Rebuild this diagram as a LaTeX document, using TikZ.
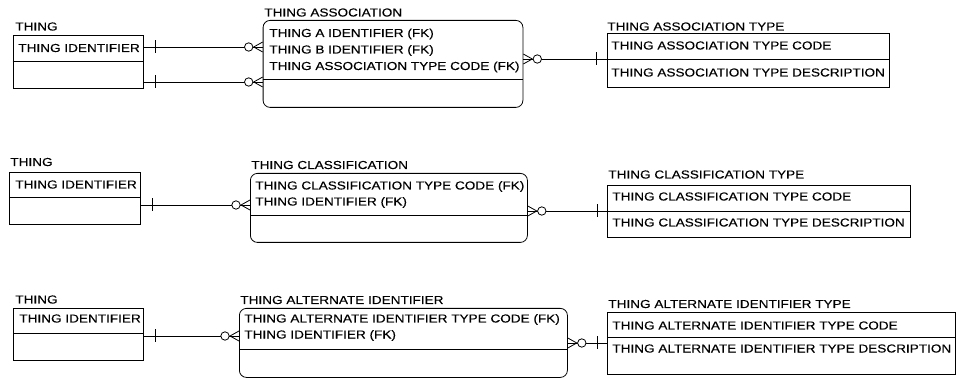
\documentclass[tikz,border=0pt]{standalone}
\usepackage{fontspec}
\setmainfont{Liberation Sans}[FakeStretch=1.17,FakeBold=0.3]
\begin{document}
\begin{tikzpicture}[x=1pt,y=-1pt,line width=0.8pt,
  ent/.style={draw,rectangle,anchor=north west,inner sep=0pt},
  rent/.style={ent,rounded corners=7pt},
  lbl/.style={anchor=base west,inner sep=0pt,font=\fontsize{11.6}{13}\selectfont},
  manyzero/.pic={\draw (0,-5) -- (-9,0) -- (0,5);
                 \draw[fill=white] (-14,0) circle (4.2);},
  onebar/.pic={\draw (12,-6.5) -- (12,6.5);},
  onebarin/.pic={\draw (-10,-6.5) -- (-10,6.5);}]
\useasboundingbox (0,0) rectangle (956,379);

% ---------- Thing association ----------
\node[ent,minimum width=130.3pt,minimum height=53pt] (t1) at (12.7,35) {};
\draw (t1.west |- 0,61) -- (t1.east |- 0,61);
\node[lbl] (t1l) at (15,30.5) {THING};
\node[lbl] (t1a) at (18,52) {THING IDENTIFIER};

\node[rent,minimum width=259.8pt,minimum height=87pt] (a1) at (262.7,20) {};
\draw (a1.west |- 0,79) -- (a1.east |- 0,79);
\node[lbl] (a1l) at (264,16.5) {THING ASSOCIATION};
\node[lbl] (a1a) at (269,37) {THING A IDENTIFIER (FK)};
\node[lbl] (a1b) at (269,53.5) {THING B IDENTIFIER (FK)};
\node[lbl] (a1c) at (269,70) {THING ASSOCIATION TYPE CODE (FK)};

\node[ent,minimum width=282.5pt,minimum height=54pt] (y1) at (606.5,33) {};
\draw (y1.west |- 0,59) -- (y1.east |- 0,59);
\node[lbl] (y1l) at (607,30.5) {THING ASSOCIATION TYPE};
\node[lbl] (y1a) at (611,49.5) {THING ASSOCIATION TYPE CODE};
\node[lbl] (y1b) at (611,76.5) {THING ASSOCIATION TYPE DESCRIPTION};

\coordinate (r1a) at (0,47);
\coordinate (r1b) at (0,82);
\coordinate (r1c) at (0,59);
\draw (t1.east |- r1a) -- (a1.west |- r1a);
\draw (t1.east |- r1b) -- (a1.west |- r1b);
\draw (a1.east |- r1c) -- (y1.west |- r1c);
\path (t1.east |- r1a) pic {onebar};
\path (t1.east |- r1b) pic {onebar};
\path (a1.west |- r1a) pic {manyzero};
\path (a1.west |- r1b) pic {manyzero};
\path (a1.east |- r1c) pic[xscale=-1] {manyzero};
\path (y1.west |- r1c) pic {onebarin};

% ---------- Thing classification ----------
\node[ent,minimum width=131pt,minimum height=52pt] (t2) at (9,172) {};
\draw (t2.west |- 0,197) -- (t2.east |- 0,197);
\node[lbl] (t2l) at (10,166) {THING};
\node[lbl] (t2a) at (15,188.5) {THING IDENTIFIER};

\node[rent,minimum width=277pt,minimum height=69pt] (a2) at (250,173) {};
\draw (a2.west |- 0,215) -- (a2.east |- 0,215);
\node[lbl] (a2l) at (251,169) {THING CLASSIFICATION};
\node[lbl] (a2a) at (255,189.5) {THING CLASSIFICATION TYPE CODE (FK)};
\node[lbl] (a2b) at (255,205.5) {THING IDENTIFIER (FK)};

\node[ent,minimum width=303pt,minimum height=52pt] (y2) at (607,185) {};
\draw (y2.west |- 0,211) -- (y2.east |- 0,211);
\node[lbl] (y2l) at (608,178.5) {THING CLASSIFICATION TYPE};
\node[lbl] (y2a) at (612,200.5) {THING CLASSIFICATION TYPE CODE};
\node[lbl] (y2b) at (612,226.5) {THING CLASSIFICATION TYPE DESCRIPTION};

\coordinate (r2a) at (0,205);
\coordinate (r2b) at (0,211);
\draw (t2.east |- r2a) -- (a2.west |- r2a);
\draw (a2.east |- r2b) -- (y2.west |- r2b);
\path (t2.east |- r2a) pic {onebar};
\path (a2.west |- r2a) pic {manyzero};
\path (a2.east |- r2b) pic[xscale=-1] {manyzero};
\path (y2.west |- r2b) pic {onebarin};

% ---------- Thing alternate identifier ----------
\node[ent,minimum width=130pt,minimum height=52pt] (t3) at (13,308) {};
\draw (t3.west |- 0,333) -- (t3.east |- 0,333);
\node[lbl] (t3l) at (15,303.5) {THING};
\node[lbl] (t3a) at (19,322.5) {THING IDENTIFIER};

\node[rent,minimum width=328pt,minimum height=69pt] (a3) at (239,308) {};
\draw (a3.west |- 0,349) -- (a3.east |- 0,349);
\node[lbl] (a3l) at (240,304) {THING ALTERNATE IDENTIFIER};
\node[lbl] (a3a) at (244,322.5) {THING ALTERNATE IDENTIFIER TYPE CODE (FK)};
\node[lbl] (a3b) at (244,338.5) {THING IDENTIFIER (FK)};

\node[ent,minimum width=348pt,minimum height=62pt] (y3) at (607,312) {};
\draw (y3.west |- 0,337) -- (y3.east |- 0,337);
\node[lbl] (y3l) at (608,308) {THING ALTERNATE IDENTIFIER TYPE};
\node[lbl] (y3a) at (612,329.5) {THING ALTERNATE IDENTIFIER TYPE CODE};
\node[lbl] (y3b) at (612,352.5) {THING ALTERNATE IDENTIFIER TYPE DESCRIPTION};

\coordinate (r3a) at (0,336);
\coordinate (r3b) at (0,343);
\draw (t3.east |- r3a) -- (a3.west |- r3a);
\draw (a3.east |- r3b) -- (y3.west |- r3b);
\path (t3.east |- r3a) pic {onebar};
\path (a3.west |- r3a) pic {manyzero};
\path (a3.east |- r3b) pic[xscale=-1] {manyzero};
\path (y3.west |- r3b) pic {onebarin};
\end{tikzpicture}
\end{document}
